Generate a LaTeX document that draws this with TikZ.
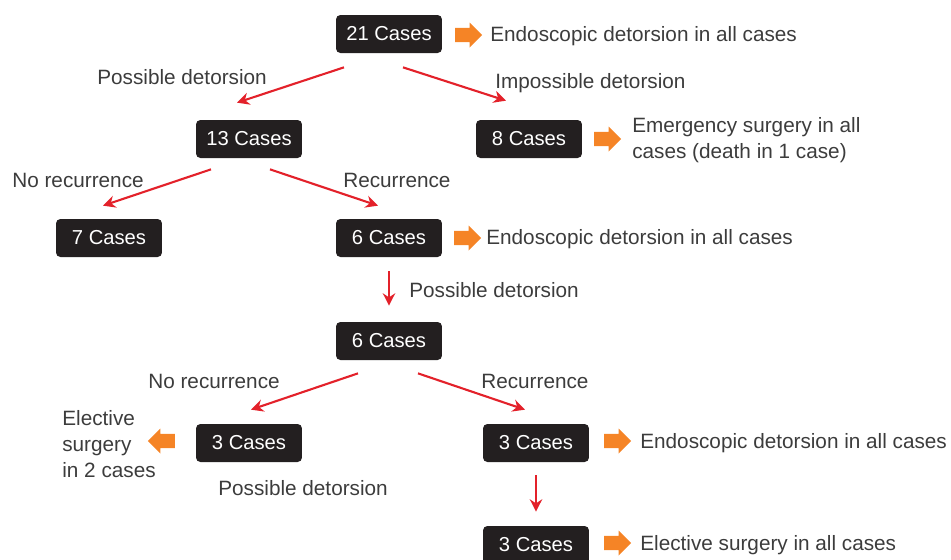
\documentclass[tikz,border=0pt]{standalone}
\usepackage{fontspec}
\setmainfont{Liberation Sans}
\usetikzlibrary{shapes.arrows,arrows.meta}

\definecolor{boxblack}{HTML}{231F20}
\definecolor{flowred}{HTML}{E3212A}
\definecolor{flowora}{HTML}{F58426}
\definecolor{txtgray}{HTML}{3C3C3C}

\tikzset{
	cases/.style={fill=boxblack, rounded corners=2.5pt, text=white, minimum width=2.12cm, minimum height=0.76cm, inner sep=0pt, font=\fontsize{11.5}{14}\selectfont},
	lbl/.style={text=txtgray, anchor=west, inner sep=0pt, align=left, yshift=-0.04cm, font=\fontsize{11.8}{14.6}\selectfont},
	redarr/.style={-{Stealth[length=7pt,width=7pt]}, draw=flowred, line width=1.2pt},
	orarr/.style={single arrow, fill=flowora, draw=none, inner sep=0.13cm, minimum height=0.54cm, minimum width=0.5cm, single arrow head extend=0.1cm, single arrow tip angle=90}
}

\begin{document}
\begin{tikzpicture}[x=0.02cm, y=-0.02cm]
		\useasboundingbox (0,0) rectangle (951,559);
		
		% case boxes
		\node[cases] (n21) at (389,34) {21 Cases};
		\node[cases] (n13) at (249,139) {13 Cases};
		\node[cases] (n8) at (529,139) {8 Cases};
		\node[cases] (n7) at (109,238) {7 Cases};
		\node[cases] (n6a) at (389,238) {6 Cases};
		\node[cases] (n6b) at (389,341) {6 Cases};
		\node[cases] (n3a) at (249,443) {3 Cases};
		\node[cases] (n3b) at (536,443) {3 Cases};
		\node[cases] (n3c) at (536,545) {3 Cases};
		
		% orange block arrows
		\node[orarr] (o21) at (465,35) {};
		\node[orarr] (o8) at (604,139) {};
		\node[orarr] (o6a) at (464,238) {};
		\node[orarr, shape border rotate=180] (o3a) at (165,441) {};
		\node[orarr] (o3b) at (614,441) {};
		\node[orarr] (o3c) at (614,543) {};
		
		% outcomes
		\node[lbl] (t21) at (490,34) {Endoscopic detorsion in all cases};
		\node[lbl] (t8) at (632,138) {Emergency surgery in all\\cases (death in 1 case)};
		\node[lbl] (t6a) at (486,237) {Endoscopic detorsion in all cases};
		\node[lbl] (t3a) at (62,442) {Elective\\surgery\\in 2 cases};
		\node[lbl] (t3b) at (640,441) {Endoscopic detorsion in all cases};
		\node[lbl] (t3c) at (640,543) {Elective surgery in all cases};
		
		% branch labels
		\node[lbl] (b1) at (97,75) {Possible detorsion};
		\node[lbl] (b2) at (495,81) {Impossible detorsion};
		\node[lbl] (b3) at (12,178) {No recurrence};
		\node[lbl] (b4) at (343,178) {Recurrence};
		\node[lbl] (b5) at (409,288) {Possible detorsion};
		\node[lbl] (b6) at (148,379) {No recurrence};
		\node[lbl] (b7) at (481,379) {Recurrence};
		\node[lbl] (b8) at (218,486) {Possible detorsion};
		
		% red arrows
		\draw[redarr] ([shift={(-45,14)}]n21.south) -- ([shift={(-12,-17)}]n13.north);
		\draw[redarr] ([shift={(14,14)}]n21.south) -- ([shift={(-23,-19)}]n8.north);
		\draw[redarr] ([shift={(-38,11)}]n13.south) -- ([shift={(-6,-13)}]n7.north);
		\draw[redarr] ([shift={(21,11)}]n13.south) -- ([shift={(-11,-13)}]n6a.north);
		\draw[redarr] ([shift={(0,14)}]n6a.south) -- ([shift={(0,-16)}]n6b.north);
		\draw[redarr] ([shift={(-31,13)}]n6b.south) -- ([shift={(2,-14)}]n3a.north);
		\draw[redarr] ([shift={(29,13)}]n6b.south) -- ([shift={(-11,-14)}]n3b.north);
		\draw[redarr] ([shift={(0,13)}]n3b.south) -- ([shift={(0,-14)}]n3c.north);
	\end{tikzpicture}
\end{document}
